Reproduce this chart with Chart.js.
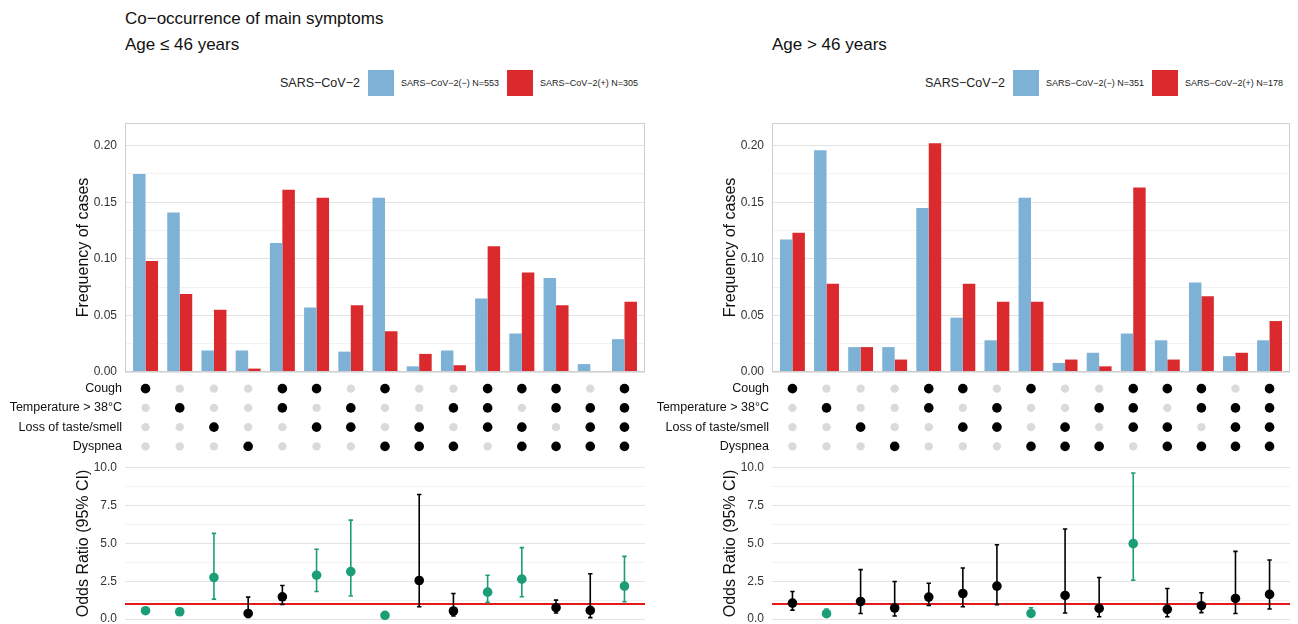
<!DOCTYPE html>
<html><head><meta charset="utf-8">
<script src="https://cdn.jsdelivr.net/npm/chart.js@4.4.1/dist/chart.umd.min.js"></script>
<style>
html,body{margin:0;padding:0;background:#fff;}
body{width:1298px;height:624px;position:relative;overflow:hidden;font-family:"Liberation Sans",Arial,sans-serif;}
canvas{position:absolute;}
.title{position:absolute;font-size:17px;color:#111;white-space:nowrap;line-height:1;}
.legend{position:absolute;display:flex;align-items:center;white-space:nowrap;height:26px;}
.legend .lt{font-size:12.5px;color:#222;margin-right:8px;}
.legend .sw{width:26px;height:26px;margin-right:7px;}
.legend .ll{font-size:9px;color:#222;margin-right:8px;}
.legend .ll:last-child{margin-right:0;}
</style></head><body>
<script>
// ---------- data ----------
const symptoms = ['Cough', 'Temperature > 38°C', 'Loss of taste/smell', 'Dyspnea'];
const categories = ['C', 'T', 'L', 'D', 'C+T', 'C+L', 'T+L', 'C+D', 'L+D', 'T+D', 'C+T+L', 'C+L+D', 'C+T+D', 'T+L+D', 'C+T+L+D'];
const comboMembers = [[0],[1],[2],[3],[0,1],[0,2],[1,2],[0,3],[2,3],[1,3],[0,1,2],[0,2,3],[0,1,3],[1,2,3],[0,1,2,3]];
const seriesLabel = 'SARS−CoV−2';

// Age <= 46
const youngNegN = 553, youngPosN = 305;
const youngNeg = [0.175, 0.141, 0.019, 0.019, 0.114, 0.057, 0.018, 0.154, 0.005, 0.019, 0.065, 0.034, 0.083, 0.007, 0.029];
const youngPos = [0.098, 0.069, 0.055, 0.003, 0.161, 0.154, 0.059, 0.036, 0.016, 0.006, 0.111, 0.088, 0.059, 0.000, 0.062];
const youngOR  = [0.55, 0.48, 2.75, 0.37, 1.47, 2.90, 3.14, 0.24, 2.55, 0.53, 1.78, 2.64, 0.75, 0.57, 2.18];
const youngLo  = [0.40, 0.33, 1.32, 0.11, 0.97, 1.82, 1.52, 0.15, 0.81, 0.20, 1.10, 1.47, 0.40, 0.09, 1.14];
const youngHi  = [0.75, 0.70, 5.67, 1.45, 2.22, 4.62, 6.55, 0.35, 8.24, 1.69, 2.90, 4.73, 1.25, 3.00, 4.15];

// Age > 46
const oldNegN = 351, oldPosN = 178;
const oldNeg = [0.117, 0.196, 0.022, 0.022, 0.145, 0.048, 0.028, 0.154, 0.008, 0.017, 0.034, 0.028, 0.079, 0.014, 0.028];
const oldPos = [0.123, 0.078, 0.022, 0.011, 0.202, 0.078, 0.062, 0.062, 0.011, 0.005, 0.163, 0.011, 0.067, 0.017, 0.045];
const oldOR  = [1.05, 0.35, 1.16, 0.73, 1.45, 1.69, 2.18, 0.37, 1.56, 0.70, 4.99, 0.64, 0.88, 1.36, 1.63];
const oldLo  = [0.59, 0.20, 0.37, 0.20, 0.90, 0.81, 0.95, 0.20, 0.40, 0.15, 2.57, 0.15, 0.42, 0.37, 0.66];
const oldHi  = [1.82, 0.66, 3.27, 2.48, 2.37, 3.38, 4.92, 0.75, 5.96, 2.75, 9.67, 2.02, 1.74, 4.48, 3.91];

const freqTicks = [0, 0.025, 0.05, 0.075, 0.1, 0.125, 0.15, 0.175, 0.2];
const freqMajor = [0, 0.05, 0.1, 0.15, 0.2];
const orTicks = [0, 1.25, 2.5, 3.75, 5, 6.25, 7.5, 8.75, 10];
const orMajor = [0, 2.5, 5, 7.5, 10];
const refOR = 1;

// ---------- styling ----------
const FONT = '"Liberation Sans", Arial, sans-serif';
Chart.defaults.font.family = FONT;
Chart.defaults.animation = false;
const BLUE = '#7db1d6', RED = '#da2a2e', GREEN = '#1b9e77', BLACK = '#000000', GREY = '#dadada';
const XMIN = -0.6, XMAX = categories.length - 1 + 0.6;

const boxPlugin = {
  id: 'box',
  afterDatasetsDraw(chart) {
    const a = chart.chartArea, c = chart.ctx;
    c.save(); c.strokeStyle = '#cfcfcf'; c.lineWidth = 1;
    c.strokeRect(Math.round(a.left) + 0.5, Math.round(a.top) + 0.5, Math.round(a.right - a.left) - 1, Math.round(a.bottom - a.top) - 1);
    c.restore();
  }
};

function addCanvas(left, top, w, h) {
  const cv = document.createElement('canvas');
  cv.width = w; cv.height = h;
  cv.style.left = left + 'px'; cv.style.top = top + 'px';
  cv.style.width = w + 'px'; cv.style.height = h + 'px';
  document.body.appendChild(cv);
  return cv;
}
function addDiv(cls, left, top, html) {
  const d = document.createElement('div');
  d.className = cls; d.style.left = left + 'px'; d.style.top = top + 'px';
  d.innerHTML = html; document.body.appendChild(d); return d;
}
const isMajor = (arr, v) => arr.some(m => Math.abs(m - v) < 1e-9);

function makePanel(p) {
  const x0 = p.x0, x1 = p.x1, padR = 15;
  if (p.mainTitle) addDiv('title', x0, 10, p.mainTitle);
  addDiv('title', x0, 36, p.subTitle);
  const lg = addDiv('legend', 0, 70,
    `<span class="lt">${seriesLabel}</span><span class="sw" style="background:${BLUE}"></span><span class="ll">${seriesLabel}(−) N=${p.nNeg}</span><span class="sw" style="background:${RED}"></span><span class="ll">${seriesLabel}(+) N=${p.nPos}</span>`);
  lg.style.left = (x1 - 7 - lg.offsetWidth) + 'px';

  const yTitleFont = { size: 16, family: FONT };
  const tickFont = { size: 12, family: FONT };

  // bar chart: chart area y 122..372
  const bl = x0 - 55, bw = x1 + padR - bl;
  new Chart(addCanvas(bl, 95, bw, 297), {
    type: 'bar',
    data: {
      datasets: [
        { label: seriesLabel + '(−)', data: p.neg.map((v, i) => ({ x: i, y: v })), backgroundColor: BLUE, categoryPercentage: 0.73, barPercentage: 1 },
        { label: seriesLabel + '(+)', data: p.pos.map((v, i) => ({ x: i, y: v })), backgroundColor: RED, categoryPercentage: 0.73, barPercentage: 1 }
      ]
    },
    options: {
      responsive: false, maintainAspectRatio: false,
      layout: { padding: { left: 0, right: padR, top: 28, bottom: 20 } },
      plugins: { legend: { display: false }, tooltip: { enabled: false } },
      scales: {
        x: { type: 'linear', min: XMIN, max: XMAX, offset: false, display: false, grid: { offset: false } },
        y: {
          min: 0, max: 0.22,
          afterFit: s => { s.width = 55; },
          afterBuildTicks: s => { s.ticks = freqTicks.map(v => ({ value: v })); },
          ticks: { font: tickFont, color: '#333', padding: 8, callback: v => isMajor(freqMajor, v) ? v.toFixed(2) : '' },
          grid: { drawTicks: false, color: c => isMajor(freqMajor, c.tick.value) ? '#e3e3e3' : '#f2f2f2' },
          border: { display: false },
          title: { display: true, text: 'Frequency of cases', font: yTitleFont, color: '#111', padding: { top: 4, bottom: 4 } }
        }
      }
    },
    plugins: [boxPlugin]
  });

  // dot matrix: chart area y 379..456
  const dl = x0 - 125, dw = x1 + padR - dl;
  const on = [], off = [];
  comboMembers.forEach((m, i) => symptoms.forEach((s, j) => (m.includes(j) ? on : off).push({ x: i, y: s })));
  new Chart(addCanvas(dl, 359, dw, 117), {
    type: 'scatter',
    data: {
      datasets: [
        { data: on, pointRadius: 4.8, pointBackgroundColor: BLACK, pointBorderWidth: 0 },
        { data: off, pointRadius: 4.2, pointBackgroundColor: GREY, pointBorderWidth: 0 }
      ]
    },
    options: {
      responsive: false, maintainAspectRatio: false,
      layout: { padding: { left: 0, right: padR, top: 20, bottom: 20 } },
      plugins: { legend: { display: false }, tooltip: { enabled: false } },
      scales: {
        x: { type: 'linear', min: XMIN, max: XMAX, display: false },
        y: {
          type: 'category', labels: symptoms, offset: true,
          afterFit: s => { s.width = 125; },
          ticks: { font: { size: 12.5, family: FONT }, color: '#111', padding: 3 },
          grid: { display: false, drawTicks: false },
          border: { display: false }
        }
      }
    }
  });

  // odds ratio chart: chart area y 462.7..624.3
  const sig = p.or.map((v, i) => p.lo[i] > refOR || p.hi[i] < refOR);
  const colors = sig.map(s => s ? GREEN : BLACK);
  const ds = [];
  ds.push({ data: p.or.map((v, i) => ({ x: i, y: v })), pointRadius: 4.8, pointBackgroundColor: colors, pointBorderWidth: 0, showLine: false });
  p.or.forEach((v, i) => {
    ds.push({ data: [{ x: i, y: p.lo[i] }, { x: i, y: p.hi[i] }], showLine: true, borderColor: colors[i], borderWidth: 1.6,
      pointStyle: 'line', pointRadius: 2.2, pointBorderColor: colors[i], pointBorderWidth: 1.6 });
  });
  ds.push({ data: [{ x: XMIN, y: refOR }, { x: XMAX, y: refOR }], showLine: true, borderColor: '#e41a1c', borderWidth: 2, pointRadius: 0 });
  new Chart(addCanvas(bl, 442, bw, 203), {
    type: 'scatter',
    data: { datasets: ds },
    options: {
      responsive: false, maintainAspectRatio: false,
      layout: { padding: { left: 0, right: padR, top: 20.7, bottom: 20.7 } },
      plugins: { legend: { display: false }, tooltip: { enabled: false } },
      scales: {
        x: { type: 'linear', min: XMIN, max: XMAX, display: false },
        y: {
          min: -0.35, max: 10.35,
          afterFit: s => { s.width = 55; },
          afterBuildTicks: s => { s.ticks = orTicks.map(v => ({ value: v })); },
          ticks: { font: tickFont, color: '#333', padding: 8, callback: v => isMajor(orMajor, v) ? v.toFixed(1) : '' },
          grid: { drawTicks: false, color: c => isMajor(orMajor, c.tick.value) ? '#e3e3e3' : '#f2f2f2' },
          border: { display: false },
          title: { display: true, text: 'Odds Ratio (95% CI)', font: yTitleFont, color: '#111', padding: { top: 4, bottom: 4 } }
        }
      }
    }
  });
}

makePanel({ x0: 125, x1: 645, mainTitle: 'Co−occurrence of main symptoms', subTitle: 'Age ≤ 46 years',
  nNeg: youngNegN, nPos: youngPosN, neg: youngNeg, pos: youngPos, or: youngOR, lo: youngLo, hi: youngHi });
makePanel({ x0: 772, x1: 1290, mainTitle: null, subTitle: 'Age > 46 years',
  nNeg: oldNegN, nPos: oldPosN, neg: oldNeg, pos: oldPos, or: oldOR, lo: oldLo, hi: oldHi });
</script>
</body></html>
